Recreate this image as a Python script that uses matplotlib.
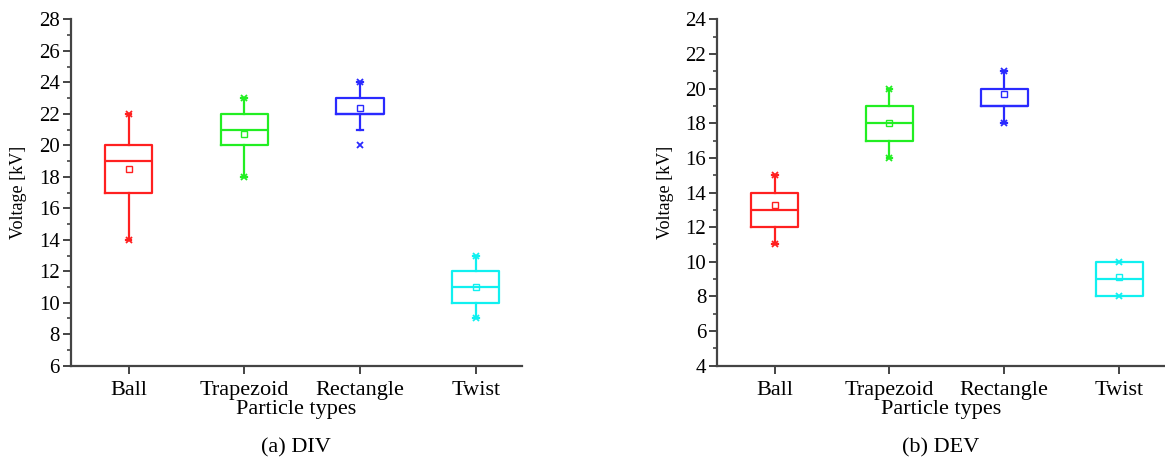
import numpy as np
import matplotlib.pyplot as plt
from matplotlib.ticker import MultipleLocator

# --- data ---
categories = ["Ball", "Trapezoid", "Rectangle", "Twist"]
colors = ["#ff2020", "#22ee22", "#2a2aff", "#10f0f0"]

# (a) DIV
div_whislo = [14, 18, 21, 9]
div_q1 = [17, 20, 22, 10]
div_med = [19, 21, 22, 11]
div_q3 = [20, 22, 23, 12]
div_whishi = [22, 23, 24, 13]
div_mean = [18.5, 20.7, 22.4, 11.0]
div_min = [14, 18, 20, 9]
div_max = [22, 23, 24, 13]

# (b) DEV
dev_whislo = [11, 16, 18, 8]
dev_q1 = [12, 17, 19, 8]
dev_med = [13, 18, 19, 9]
dev_q3 = [14, 19, 20, 10]
dev_whishi = [15, 20, 21, 10]
dev_mean = [13.3, 18.0, 19.7, 9.1]
dev_min = [11, 16, 18, 8]
dev_max = [15, 20, 21, 10]

plt.rcParams['font.family'] = ['Liberation Serif', 'DejaVu Serif']
AX_COLOR = '#444444'


def draw_panel(ax, whislo, q1, med, q3, whishi, mean, dmin, dmax, ylim, caption):
    pos = np.arange(1, len(categories) + 1)
    for i, c in enumerate(colors):
        st = [dict(whislo=whislo[i], q1=q1[i], med=med[i], q3=q3[i],
                   whishi=whishi[i], mean=mean[i], fliers=[])]
        lp = dict(color=c, lw=1.6)
        ax.bxp(st, positions=[pos[i]], widths=0.41, showmeans=True,
               showfliers=False, capwidths=0.05,
               boxprops=lp, whiskerprops=lp, capprops=lp, medianprops=lp,
               meanprops=dict(marker='s', markersize=4, markerfacecolor='none',
                              markeredgecolor=c, markeredgewidth=1.0))
        # min / max markers
        ax.plot([pos[i], pos[i]], [dmin[i], dmax[i]], ls='none', marker='x',
                ms=4, mew=1.3, color=c)

    ax.set_xlim(0.5, 4.4)
    ax.set_ylim(*ylim)
    ax.set_xticks(pos)
    ax.set_xticklabels(categories, fontsize=16)
    ax.yaxis.set_major_locator(MultipleLocator(2))
    ax.yaxis.set_minor_locator(MultipleLocator(1))
    ax.spines['top'].set_visible(False)
    ax.spines['right'].set_visible(False)
    for s in ['left', 'bottom']:
        ax.spines[s].set_linewidth(1.6)
        ax.spines[s].set_color(AX_COLOR)
    ax.tick_params(axis='both', which='major', direction='out', length=6,
                   width=1.4, color=AX_COLOR, pad=2)
    ax.tick_params(axis='y', which='major', labelsize=15)
    ax.tick_params(axis='y', which='minor', direction='out', length=3,
                   width=1.2, color=AX_COLOR)
    ax.tick_params(axis='x', pad=5)
    ax.set_ylabel("Voltage [kV]", fontsize=13, va='center')
    ax.yaxis.set_label_coords(-0.116, 0.5)
    ax.set_xlabel("Particle types", fontsize=16, va='center')
    ax.xaxis.set_label_coords(0.5, -0.127)
    ax.text(0.5, -0.237, caption, transform=ax.transAxes, ha='center',
            va='center', fontsize=16)


fig = plt.figure(figsize=(11.65, 4.68), dpi=100)
ax1 = fig.add_axes([0.0607, 0.2186, 0.3874, 0.740])
ax2 = fig.add_axes([0.6157, 0.2186, 0.3843, 0.740])

draw_panel(ax1, div_whislo, div_q1, div_med, div_q3, div_whishi, div_mean,
           div_min, div_max, (6, 28), "(a) DIV")
draw_panel(ax2, dev_whislo, dev_q1, dev_med, dev_q3, dev_whishi, dev_mean,
           dev_min, dev_max, (4, 24), "(b) DEV")

fig.savefig("out.png", dpi=100)
